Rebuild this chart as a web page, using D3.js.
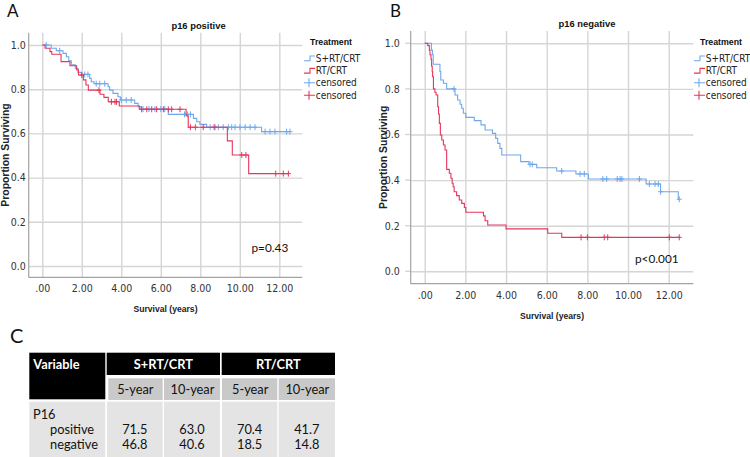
<!DOCTYPE html>
<html><head><meta charset="utf-8">
<script src="https://cdn.jsdelivr.net/npm/d3@7/dist/d3.min.js"></script>
<style>
body{margin:0;background:#fff;}
svg{display:block;}
</style></head>
<body><svg id="chart" width="750" height="457"></svg>
<script>
// ---------------- DATA ----------------
const xTicks = [0, 2, 4, 6, 8, 10, 12];
const xTickLabels = [".00", "2.00", "4.00", "6.00", "8.00", "10.00", "12.00"];
const yTicks = [0, 0.2, 0.4, 0.6, 0.8, 1.0];
const yTickLabels = ["0.0", "0.2", "0.4", "0.6", "0.8", "1.0"];
const legendLabels = ["S+RT/CRT", "RT/CRT", "censored", "censored"];
const panelTitles = ["p16 positive", "p16 negative"];
const pValues = ["p=0.43", "p<0.001"];

// p16 positive, S+RT/CRT : [time (years), survival after the step]
const posSurgeryEvents = [[0.45,0.985],[0.71,0.974],[1.05,0.962],[1.22,0.947],[1.34,0.929],[1.47,0.910],[1.67,0.894],[1.81,0.876],[1.98,0.867],[2.40,0.849],[2.48,0.834],[2.62,0.825],[3.33,0.811],[3.41,0.796],[3.58,0.781],[3.83,0.766],[3.95,0.751],[4.68,0.736],[4.85,0.721],[5.00,0.710],[6.38,0.686],[7.65,0.668],[7.82,0.653],[7.98,0.641],[8.32,0.628],[11.10,0.608]];
const posSurgeryEnd = 12.54;
const posSurgeryCensored = [[0.2,1.0],[0.88,0.974],[2.15,0.867],[2.31,0.867],[2.73,0.825],[2.91,0.825],[3.16,0.825],[4.0,0.751],[4.25,0.751],[4.5,0.751],[5.1,0.71],[5.4,0.71],[5.7,0.71],[6.0,0.71],[6.2,0.71],[7.2,0.686],[7.35,0.686],[7.5,0.686],[8.5,0.628],[8.75,0.628],[8.91,0.628],[9.16,0.628],[9.42,0.628],[9.59,0.628],[9.76,0.628],[10.01,0.628],[10.27,0.628],[10.52,0.628],[10.77,0.628],[11.28,0.608],[11.53,0.608],[11.78,0.608],[12.37,0.608],[12.54,0.608]];

// p16 positive, RT/CRT
const posRtEvents = [[0.14,0.985],[0.39,0.970],[0.48,0.958],[0.95,0.925],[1.40,0.906],[1.74,0.887],[1.83,0.864],[2.08,0.842],[2.21,0.819],[2.33,0.796],[2.92,0.777],[3.12,0.763],[3.34,0.743],[3.90,0.724],[4.91,0.709],[7.28,0.680],[7.39,0.628],[9.37,0.566],[9.62,0.502],[10.45,0.418]];
const posRtEnd = 12.46;
const posRtCensored = [[2.0,0.864],[2.87,0.796],[3.5,0.743],[3.68,0.743],[3.76,0.743],[5.03,0.709],[5.29,0.709],[5.54,0.709],[5.79,0.709],[6.13,0.709],[6.38,0.709],[6.55,0.709],[6.97,0.709],[7.5,0.628],[7.75,0.628],[8.15,0.628],[8.7,0.628],[10.1,0.502],[10.31,0.502],[11.82,0.418],[12.2,0.418],[12.46,0.418]];

// p16 negative, S+RT/CRT
const negSurgeryEvents = [[0.33,0.97],[0.38,0.95],[0.42,0.908],[0.75,0.876],[0.79,0.839],[0.92,0.825],[1.08,0.80],[1.49,0.773],[1.62,0.751],[1.74,0.733],[1.82,0.715],[1.90,0.693],[2.02,0.675],[2.44,0.661],[2.77,0.642],[2.97,0.62],[3.33,0.605],[3.49,0.583],[3.59,0.561],[3.70,0.539],[3.79,0.51],[4.72,0.481],[5.13,0.469],[5.51,0.454],[6.49,0.44],[7.44,0.427],[8.05,0.405],[10.89,0.383],[11.6,0.349],[12.47,0.316]];
const negSurgeryEnd = 12.52;
const negSurgeryCensored = [[1.44,0.80],[5.18,0.469],[5.29,0.469],[6.74,0.44],[7.64,0.427],[7.85,0.427],[8.76,0.405],[8.95,0.405],[9.47,0.405],[9.61,0.405],[9.70,0.405],[10.56,0.405],[11.05,0.383],[11.33,0.383],[11.49,0.383],[11.6,0.349],[12.52,0.316]];

// p16 negative, RT/CRT
const negRtEvents = [[0.15,0.99],[0.23,0.97],[0.26,0.95],[0.31,0.93],[0.34,0.90],[0.37,0.875],[0.39,0.853],[0.43,0.80],[0.50,0.785],[0.56,0.773],[0.64,0.722],[0.68,0.69],[0.72,0.649],[0.77,0.598],[0.84,0.576],[0.92,0.554],[1.0,0.532],[1.08,0.447],[1.21,0.430],[1.29,0.408],[1.35,0.386],[1.40,0.371],[1.45,0.349],[1.57,0.332],[1.70,0.313],[1.82,0.298],[1.95,0.28],[2.02,0.259],[2.89,0.243],[2.97,0.222],[3.10,0.203],[4.0,0.186],[6.05,0.167],[6.74,0.149]];
const negRtEnd = 12.52;
const negRtCensored = [[7.69,0.149],[8.0,0.149],[8.83,0.149],[9.0,0.149],[12.03,0.149],[12.52,0.149]];

// Table C
const tableGroups = ["S+RT/CRT", "RT/CRT"];
const tableYears = ["5-year", "10-year", "5-year", "10-year"];
const tableRowLabels = ["positive", "negative"];
const positiveRates = [71.5, 63.0, 70.4, 41.7];
const negativeRates = [46.8, 40.6, 18.5, 14.8];

// ---------------- DRAWING ----------------
const svg = d3.select("#chart");
const BLUE = "#6ea8ec", RED = "#e5365c";
const narrow = "'Liberation Sans Narrow','DejaVu Sans Condensed',sans-serif";
const sans = "'Liberation Sans',Arial,sans-serif";
const calib = "Lato,'Open Sans',sans-serif";

function panel(cfg) {
  const g = svg.append("g");
  const x = d3.scaleLinear().domain([0, 12]).range([cfg.x0, cfg.x12]);
  const y = d3.scaleLinear().domain([0, 1]).range([cfg.y0, cfg.y1]);
  const L = cfg.left, R = cfg.right, T = cfg.top, B = cfg.bottom;

  const xa = g.append("g").attr("transform", `translate(0,${B})`)
    .call(d3.axisBottom(x).tickValues(xTicks).tickFormat((d, i) => xTickLabels[i])
      .tickSize(-(B - T)).tickPadding(cfg.xPad));
  xa.select(".domain").remove();
  xa.selectAll("line").attr("stroke", "#d5d5d5").attr("stroke-width", 1.4);
  xa.selectAll("text").attr("font-family", narrow).attr("font-size", 10.5).attr("fill", "#333");

  const ya = g.append("g").attr("transform", `translate(${L},0)`)
    .call(d3.axisLeft(y).tickValues(yTicks).tickFormat((d, i) => yTickLabels[i])
      .tickSizeInner(-(R - L)).tickSizeOuter(0).tickPadding(cfg.yPad));
  ya.select(".domain").remove();
  ya.selectAll("line").attr("stroke", "#d5d5d5").attr("stroke-width", 1.4);
  ya.selectAll("text").attr("font-family", narrow).attr("font-size", 10.5).attr("fill", "#333");
  if (cfg.outTick > 0) {
    g.append("g").selectAll("line").data(yTicks).join("line")
      .attr("x1", L - cfg.outTick).attr("x2", L).attr("y1", d => y(d)).attr("y2", d => y(d))
      .attr("stroke", "#d5d5d5").attr("stroke-width", 1.4);
  }
  g.append("line").attr("x1", L).attr("x2", L).attr("y1", T).attr("y2", B).attr("stroke", "#a3a3a3").attr("stroke-width", 1.2);
  g.append("line").attr("x1", L).attr("x2", R).attr("y1", B).attr("y2", B).attr("stroke", "#a3a3a3").attr("stroke-width", 1.2);

  const line = d3.line().x(d => x(d[0])).y(d => y(d[1])).curve(d3.curveStepAfter);
  function curve(events, end, cens, color) {
    const pts = [[0, 1]].concat(events);
    pts.push([end, events[events.length - 1][1]]);
    g.append("path").attr("d", line(pts)).attr("fill", "none").attr("stroke", color).attr("stroke-width", 1.1);
    const cg = g.append("g").attr("stroke", color).attr("stroke-width", 1);
    cg.selectAll("path").data(cens).join("path")
      .attr("d", d => `M${x(d[0]) - 2.5},${y(d[1])}h5M${x(d[0])},${y(d[1]) - 3}v6`);
  }
  curve(cfg.s.ev, cfg.s.end, cfg.s.cens, BLUE);
  curve(cfg.r.ev, cfg.r.end, cfg.r.cens, RED);

  g.append("text").attr("x", (L + R) / 2 + cfg.titleDx).attr("y", cfg.titleY).attr("text-anchor", "middle")
    .attr("font-family", sans).attr("font-weight", "bold").attr("font-size", 9.4).attr("fill", "#111").text(cfg.title);
  g.append("text").attr("x", (L + R) / 2).attr("y", B + 35).attr("text-anchor", "middle")
    .attr("font-family", sans).attr("font-weight", "bold").attr("font-size", 8.6).attr("fill", "#222").text("Survival (years)");
  g.append("text").attr("transform", `translate(${cfg.yLabX},${(T + B) / 2}) rotate(-90)`).attr("text-anchor", "middle")
    .attr("font-family", sans).attr("font-weight", "bold").attr("font-size", 10.4).attr("fill", "#222").text("Proportion Surviving");
  g.append("text").attr("x", cfg.pX).attr("y", cfg.pY).attr("font-family", calib).attr("font-size", 11.8)
    .attr("fill", "#111").text(cfg.p);
  g.append("text").attr("x", cfg.letterX).attr("y", 17).attr("font-family", calib).attr("font-size", 17)
    .attr("fill", "#111").text(cfg.letter);

  const lx = cfg.legX;
  g.append("text").attr("x", lx + 6).attr("y", 45).attr("font-family", sans).attr("font-weight", "bold")
    .attr("font-size", 8.8).attr("fill", "#111").text("Treatment");
  const ly = [58.3, 70.7, 82.7, 95.3];
  const lc = [BLUE, RED, BLUE, RED];
  legendLabels.forEach((lab, i) => {
    const yy = ly[i];
    if (i < 2) {
      g.append("path").attr("d", `M${lx},${yy + 2.4}H${lx + 6}V${yy - 2.3}H${lx + 11}`)
        .attr("fill", "none").attr("stroke", lc[i]).attr("stroke-width", 1.1);
    } else {
      g.append("path").attr("d", `M${lx},${yy}H${lx + 11}M${lx + 5},${yy - 4.5}V${yy + 4.5}`)
        .attr("fill", "none").attr("stroke", lc[i]).attr("stroke-width", 1.1);
    }
    g.append("text").attr("x", lx + 11.7).attr("y", yy + 3.5).attr("font-family", narrow)
      .attr("font-size", 10).attr("fill", "#222").text(lab);
  });
}

panel({ x0: 42.3, x12: 279.3, y0: 266, y1: 45, left: 28.7, right: 302.3, top: 32.7, bottom: 277.3,
  xPad: 7, yPad: 3, outTick: 0, title: panelTitles[0], titleDx: 33, titleY: 28.5, yLabX: 8.5,
  p: pValues[0], pX: 251.5, pY: 251.8, letter: "A", letterX: 7, legX: 304,
  s: { ev: posSurgeryEvents, end: posSurgeryEnd, cens: posSurgeryCensored },
  r: { ev: posRtEvents, end: posRtEnd, cens: posRtCensored } });

panel({ x0: 424.7, x12: 668.7, y0: 271.3, y1: 43.3, left: 410.7, right: 693.3, top: 31, bottom: 283.7,
  xPad: 8, yPad: 11, outTick: 5.5, title: panelTitles[1], titleDx: 35, titleY: 27, yLabX: 387,
  p: pValues[1], pX: 635, pY: 263.4, letter: "B", letterX: 390, legX: 694,
  s: { ev: negSurgeryEvents, end: negSurgeryEnd, cens: negSurgeryCensored },
  r: { ev: negRtEvents, end: negRtEnd, cens: negRtCensored } });

// ---------------- TABLE C ----------------
const tg = svg.append("g");
const TF = 12.8;
tg.append("text").attr("x", 10).attr("y", 343).attr("font-family", calib).attr("font-size", 20).attr("fill", "#111").text("C");
const colX = [[107, 162.7], [164, 220], [222, 277.3], [278.7, 335]];
tg.append("rect").attr("x", 29.3).attr("y", 352.7).attr("width", 76).attr("height", 46.6).attr("fill", "#000");
const grpX = [[106.7, 220], [221.7, 335]];
tableGroups.forEach((gname, i) => {
  tg.append("rect").attr("x", grpX[i][0]).attr("y", 352.7).attr("width", grpX[i][1] - grpX[i][0]).attr("height", 22.3).attr("fill", "#000");
  tg.append("text").attr("x", (grpX[i][0] + grpX[i][1]) / 2).attr("y", 368.8).attr("text-anchor", "middle")
    .attr("font-family", calib).attr("font-weight", "bold").attr("font-size", TF).attr("fill", "#fff").text(gname);
});
tg.append("text").attr("x", 33.3).attr("y", 368.8).attr("font-family", calib).attr("font-weight", "bold")
  .attr("font-size", TF).attr("fill", "#fff").text("Variable");
tableYears.forEach((yr, i) => {
  const a = i === 0 ? 108.3 : colX[i][0];
  tg.append("rect").attr("x", a).attr("y", 378.3).attr("width", colX[i][1] - a).attr("height", 21.7).attr("fill", "#c9c9c9");
  tg.append("text").attr("x", (colX[i][0] + colX[i][1]) / 2 + 0.5).attr("y", 393.8).attr("text-anchor", "middle")
    .attr("font-family", calib).attr("font-size", TF).attr("fill", "#111").text(yr);
});
tg.append("rect").attr("x", 29.3).attr("y", 401.7).attr("width", 76).attr("height", 56).attr("fill", "#e4e4e4");
colX.forEach(c => {
  tg.append("rect").attr("x", c[0]).attr("y", 401.7).attr("width", c[1] - c[0]).attr("height", 56).attr("fill", "#e4e4e4");
});
tg.append("text").attr("x", 33).attr("y", 418.5).attr("font-family", calib).attr("font-size", TF).attr("fill", "#111").text("P16");
const rowY = [433.8, 448.8];
[positiveRates, negativeRates].forEach((vals, r) => {
  tg.append("text").attr("x", 50).attr("y", rowY[r]).attr("font-family", calib).attr("font-size", TF).attr("fill", "#111").text(tableRowLabels[r]);
  vals.forEach((v, i) => {
    tg.append("text").attr("x", (colX[i][0] + colX[i][1]) / 2).attr("y", rowY[r]).attr("text-anchor", "middle")
      .attr("font-family", calib).attr("font-size", TF).attr("fill", "#111").text(v.toFixed(1));
  });
});
</script>
</body></html>
